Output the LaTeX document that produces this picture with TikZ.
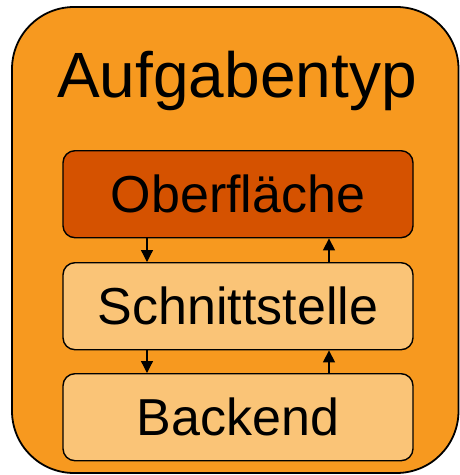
\documentclass[tikz,border=0pt]{standalone}
\usepackage{fontspec}
\setmainfont{Liberation Sans}
\usetikzlibrary{arrows.meta}
\definecolor{outerfill}{HTML}{F7991F}
\definecolor{topfill}{HTML}{D55200}
\definecolor{layerfill}{HTML}{FAC477}
\tikzset{
  layer/.style={draw=black, line width=1.4pt, rounded corners=12pt,
    minimum width=350pt, minimum height=87pt, inner sep=0pt, anchor=north,
    font=\fontsize{52}{58}\selectfont},
  flow/.style={draw=black, line width=1.3pt, -{Triangle[length=12pt,width=12pt]}}
}
\begin{document}
\begin{tikzpicture}[x=1pt,y=-1pt]
  \useasboundingbox (0,0) rectangle (459,475);
  % outer container
  \draw[fill=outerfill, draw=black, line width=1.8pt, rounded corners=62pt]
    (12,7) rectangle (458.5,473);
  \node (title) at (237,81) {\fontsize{64}{70}\selectfont Aufgabentyp};
  % stacked layers
  \node[layer, fill=topfill] (ui) at (238,150) {Oberfläche};
  \node[layer, fill=layerfill] (api) at (238,262) {Schnittstelle};
  \node[layer, fill=layerfill] (be) at (238,373) {Backend};
  % connectors between layers
  \draw[flow] (ui.south -| 147,0) -- (api.north -| 147,0);
  \draw[flow] (api.north -| 329,0) -- (ui.south -| 329,0);
  \draw[flow] (api.south -| 147,0) -- (be.north -| 147,0);
  \draw[flow] (be.north -| 329,0) -- (api.south -| 329,0);
\end{tikzpicture}
\end{document}
